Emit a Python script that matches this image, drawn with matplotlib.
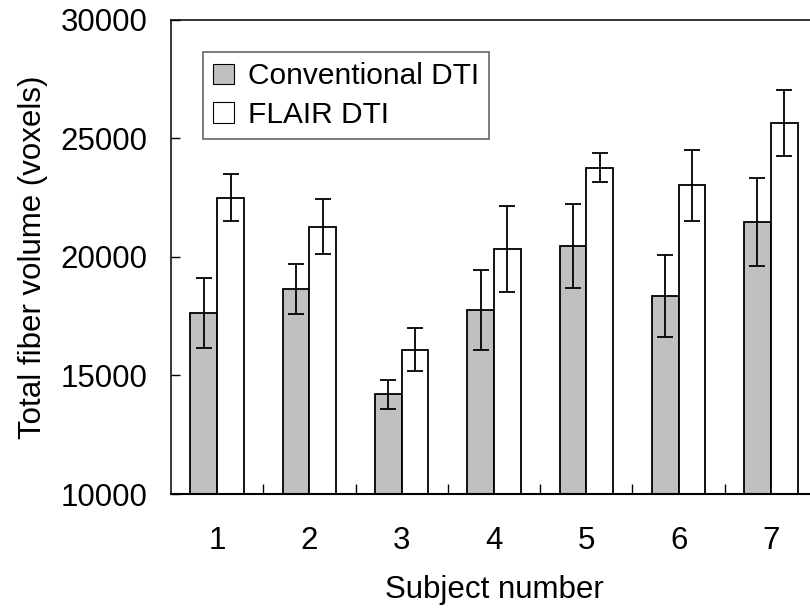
import numpy as np
import matplotlib
matplotlib.use("Agg")
import matplotlib.pyplot as plt
from matplotlib.ticker import FixedLocator

plt.rcParams['font.family'] = ['Liberation Sans', 'DejaVu Sans']

subjects = [1, 2, 3, 4, 5, 6, 7]
conv_mean = [17620, 18650, 14200, 17760, 20480, 18350, 21480]
conv_err = [1480, 1050, 600, 1690, 1770, 1720, 1860]
flair_mean = [22500, 21280, 16090, 20330, 23770, 23030, 25670]
flair_err = [1000, 1150, 920, 1820, 620, 1490, 1390]

fig = plt.figure(figsize=(8.1, 6.14), dpi=100)
# axes runs slightly past the right edge, like the source image
ax = fig.add_axes([171 / 810, 120 / 614, 646 / 810, 474 / 614])

x = np.array(subjects)
w = 0.29
err_kw = dict(ecolor='black', elinewidth=1.3, capsize=5.5, capthick=1.3)

ax.bar(x - w / 2, conv_mean, w, yerr=conv_err, color='#c0c0c0',
       edgecolor='black', linewidth=1.3, label='Conventional DTI',
       error_kw=err_kw, zorder=2)
ax.bar(x + w / 2, flair_mean, w, yerr=flair_err, color='white',
       edgecolor='black', linewidth=1.3, label='FLAIR DTI',
       error_kw=err_kw, zorder=2)

ax.set_xlim(0.5, 7.5)
ax.set_ylim(10000, 30000)
ax.set_yticks([10000, 15000, 20000, 25000, 30000])
ax.set_xticks(subjects)
ax.xaxis.set_minor_locator(FixedLocator([1.5, 2.5, 3.5, 4.5, 5.5, 6.5]))

ax.tick_params(axis='x', which='major', length=0, pad=23, labelsize=22.5)
ax.tick_params(axis='x', which='minor', direction='in', length=7, width=1)
ax.tick_params(axis='y', direction='in', length=6.5, width=1, pad=17,
               labelsize=22.5)

for s in ax.spines.values():
    s.set_linewidth(1.1)
ax.spines['bottom'].set_linewidth(1.5)

ax.set_xlabel('Subject number', fontsize=22.5, labelpad=14)
ax.set_ylabel('Total fiber volume (voxels)', fontsize=22.5, labelpad=9)

leg = ax.legend(loc='upper left', bbox_to_anchor=(203 / 810, 1 - 52 / 614),
                bbox_transform=fig.transFigure, borderaxespad=0,
                fontsize=21.5, frameon=True, fancybox=False,
                handlelength=0.7, handleheight=0.7, handletextpad=0.45,
                labelspacing=0.35, borderpad=0.35)
leg.get_frame().set_edgecolor('#404040')
leg.get_frame().set_linewidth(1.2)
for h in leg.legend_handles:
    h.set_linewidth(0.8)

fig.savefig('out.png', dpi=100)
